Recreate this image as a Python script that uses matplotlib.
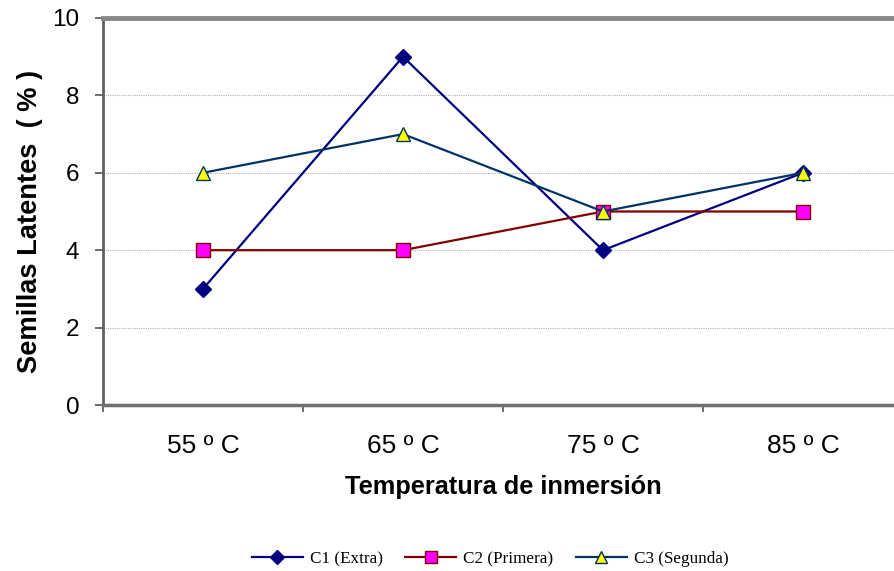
import matplotlib
matplotlib.use("Agg")
import matplotlib.pyplot as plt

categories = ["55 º C", "65 º C", "75 º C", "85 º C"]
c1_extra = [3, 9, 4, 6]
c2_primera = [4, 4, 5, 5]
c3_segunda = [6, 7, 5, 6]
y_ticks = [0, 2, 4, 6, 8, 10]

W, H = 894, 571
fig = plt.figure(figsize=(W / 100, H / 100), dpi=100)
# plot area runs past the right edge of the figure
ax = fig.add_axes([103 / W, 1 - 405 / H, 800 / W, 387 / H])

x = list(range(len(categories)))
ax.plot(x, c1_extra, color="#000080", lw=1.6, marker="D", ms=8.5,
        mfc="#000080", mec="#000080", label="C1 (Extra)", zorder=3)
ax.plot(x, c2_primera, color="#800000", lw=1.6, marker="s", ms=10,
        mfc="#FF00FF", mec="#800000", mew=1.0, label="C2 (Primera)", zorder=3)
ax.plot(x, c3_segunda, color="#003366", lw=1.6, marker="^", ms=10,
        mfc="#FFFF00", mec="#003366", mew=1.0, label="C3 (Segunda)", zorder=3)

ax.set_xlim(-0.5, 3.5)
ax.set_ylim(0, 10)
ax.set_yticks(y_ticks)
ax.set_yticklabels([str(v) for v in y_ticks], fontsize=17.5, family="Liberation Sans")
ax.yaxis.grid(True, color="#b0b0b0", linestyle=(0, (1, 1)), lw=0.8)
ax.set_axisbelow(True)

# category boundaries carry the tick marks, category centres carry the labels
ax.set_xticks([-0.5, 0.5, 1.5, 2.5, 3.5])
ax.set_xticklabels([])
ax.set_xticks(x, minor=True)
ax.set_xticklabels(categories, minor=True, fontsize=19, family="Liberation Sans")
ax.tick_params(axis="x", which="minor", length=0, pad=21)
ax.tick_params(axis="x", which="major", length=5, width=1.2, color="#555555", direction="out")
ax.tick_params(axis="y", length=6, width=1.2, color="#555555", pad=11)

ax.spines["left"].set_color("#606060")
ax.spines["left"].set_linewidth(2.0)
ax.spines["bottom"].set_color("#707070")
ax.spines["bottom"].set_linewidth(2.5)
ax.spines["top"].set_color("#888888")
ax.spines["top"].set_linewidth(3.5)
ax.spines["right"].set_color("#888888")
ax.spines["right"].set_linewidth(3.5)

fig.text(30 / W, 1 - 221 / H, "Semillas Latentes  ( % )", fontsize=19.6,
         fontweight="bold", family="Liberation Sans", rotation=90,
         ha="center", va="center")
fig.text(503 / W, 1 - 487 / H, "Temperatura de inmersión", fontsize=18.3,
         fontweight="bold", family="Liberation Sans", ha="center", va="center")

leg = fig.legend(loc="center", bbox_to_anchor=(490 / W, 1 - 559 / H), ncol=3,
                 frameon=False, prop={"family": "Liberation Serif", "size": 12.3},
                 handlelength=3.0, handletextpad=0.4, columnspacing=1.3,
                 markerscale=0.85)

fig.savefig("out.png", dpi=100)
